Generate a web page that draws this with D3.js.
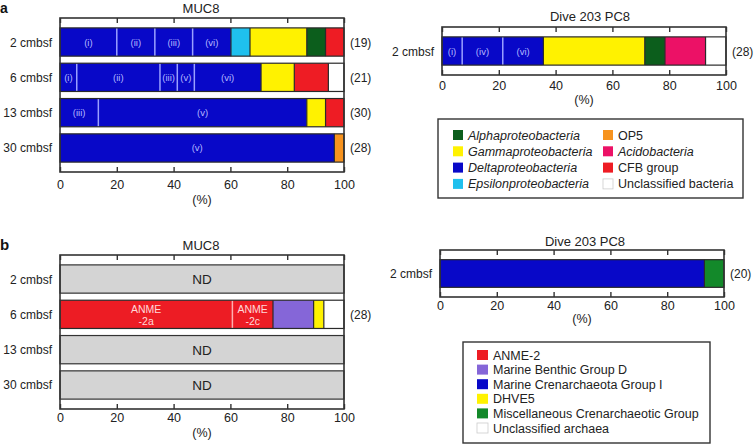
<!DOCTYPE html>
<html><head><meta charset="utf-8">
<script src="https://cdn.jsdelivr.net/npm/d3@7/dist/d3.min.js"></script>
<style>
body{margin:0;background:#fff;}
svg{display:block;font-family:"Liberation Sans",Arial,Helvetica,sans-serif;}
</style></head>
<body><svg id="chart" width="756" height="444"></svg>
<script>
// ---------- DATA ----------
const bacteriaNames = ["Alphaproteobacteria","Gammaproteobacteria","Deltaproteobacteria","Epsilonproteobacteria","OP5","Acidobacteria","CFB group","Unclassified bacteria"];
const bacteriaItalic = [true,true,true,true,false,true,false,false];
const bacteriaColors = ["#0c5e1c","#fff200","#0808c8","#1fc0ee","#f7931e","#ec1166","#ee1c24","#ffffff"];

const archaeaNames = ["ANME-2","Marine Benthic Group D","Marine Crenarchaeota Group I","DHVE5","Miscellaneous Crenarchaeotic Group","Unclassified archaea"];
const archaeaColors = ["#ed1c24","#8566d8","#0808c8","#fff200","#13892a","#ffffff"];

const depthsMUC8 = ["2 cmbsf","6 cmbsf","13 cmbsf","30 cmbsf"];
const depthsPC8 = ["2 cmbsf"];

// bacterial segments: [group, sub-label, percent]
const bacMUC8_2 = [["Deltaproteobacteria","(i)",20.0],["Deltaproteobacteria","(ii)",13.4],["Deltaproteobacteria","(iii)",13.3],["Deltaproteobacteria","(vi)",13.5],["Epsilonproteobacteria","",6.7],["Gammaproteobacteria","",20.0],["Alphaproteobacteria","",6.6],["CFB group","",6.5]];
const bacMUC8_6 = [["Deltaproteobacteria","(i)",5.9],["Deltaproteobacteria","(ii)",29.3],["Deltaproteobacteria","(iii)",6.1],["Deltaproteobacteria","(v)",6.0],["Deltaproteobacteria","(vi)",23.5],["Gammaproteobacteria","",11.7],["CFB group","",12.0],["Unclassified bacteria","",5.5]];
const bacMUC8_13 = [["Deltaproteobacteria","(iii)",13.5],["Deltaproteobacteria","(v)",73.4],["Gammaproteobacteria","",6.6],["CFB group","",6.5]];
const bacMUC8_30 = [["Deltaproteobacteria","(v)",96.6],["OP5","",3.4]];
const bacPC8_2 = [["Deltaproteobacteria","(i)",7.1],["Deltaproteobacteria","(iv)",14.3],["Deltaproteobacteria","(vi)",14.3],["Gammaproteobacteria","",35.7],["Alphaproteobacteria","",7.1],["Acidobacteria","",14.3],["Unclassified bacteria","",7.2]];
const bacMUC8Clones = ["(19)","(21)","(30)","(28)"];
const bacPC8Clones = ["(28)"];

// archaeal segments (null = ND)
const arcMUC8_2 = null;
const arcMUC8_6 = [["ANME-2","ANME\n-2a",60.7],["ANME-2","ANME\n-2c",14.3],["Marine Benthic Group D","",14.3],["DHVE5","",3.6],["Unclassified archaea","",7.1]];
const arcMUC8_13 = null;
const arcMUC8_30 = null;
const arcPC8_2 = [["Marine Crenarchaeota Group I","",93.1],["Miscellaneous Crenarchaeotic Group","",6.9]];
const arcMUC8Clones = ["","(28)","",""];
const arcPC8Clones = ["(20)"];

const xTicks = [0,20,40,60,80,100];

// ---------- DRAW ----------
const svg = d3.select("#chart");
const bacColor = d3.scaleOrdinal().domain(bacteriaNames).range(bacteriaColors);
const arcColor = d3.scaleOrdinal().domain(archaeaNames).range(archaeaColors);

function panel(o){
  const g = svg.append("g");
  const x = d3.scaleLinear().domain([0,100]).range([o.x0,o.x1]);
  const y = d3.scaleBand().domain(o.depths).range([o.top,o.bottom]).paddingInner(0.2).paddingOuter(0.28);
  g.append("text").attr("x",o.titleX).attr("y",o.titleY).attr("text-anchor","middle")
    .attr("font-size",13).attr("fill","#222").text(o.title);
  o.depths.forEach((d,i)=>{
    const segs = o.rows[i];
    const y0 = y(d), h = y.bandwidth();
    g.append("text").attr("x",o.x0-8).attr("y",y0+h/2+4.5).attr("text-anchor","end")
      .attr("font-size",12).attr("fill","#222").text(d);
    if(!segs){
      g.append("rect").attr("x",x(0)).attr("y",y0).attr("width",x(100)-x(0)).attr("height",h)
        .attr("fill","#d4d4d4").attr("stroke","#333").attr("stroke-width",1.2);
      g.append("text").attr("x",x(50)).attr("y",y0+h/2+5).attr("text-anchor","middle")
        .attr("font-size",13.5).attr("fill","#222").text("ND");
      return;
    }
    let cum = 0;
    const st = segs.map(s=>{const r={g:s[0],lab:s[1],v:s[2],a:cum}; cum+=s[2]; r.b=cum; return r;});
    g.selectAll(null).data(st).enter().append("rect")
      .attr("x",s=>x(s.a)).attr("y",y0).attr("width",s=>x(s.b)-x(s.a)).attr("height",h)
      .attr("fill",s=>o.color(s.g));
    st.slice(1).forEach((s,k)=>{
      const same = st[k].g===s.g;
      g.append("line").attr("x1",x(s.a)).attr("x2",x(s.a)).attr("y1",y0).attr("y2",y0+h)
        .attr("stroke", same ? o.subLine : "#2a2a2a").attr("stroke-width", same?1.5:1.2);
    });
    g.append("rect").attr("x",x(0)).attr("y",y0).attr("width",x(100)-x(0)).attr("height",h)
      .attr("fill","none").attr("stroke","#2a2a2a").attr("stroke-width",1.2);
    st.filter(s=>s.lab).forEach(s=>{
      const lines = s.lab.split("\n");
      const cx = (x(s.a)+x(s.b))/2;
      const t = g.append("text").attr("x",cx).attr("text-anchor","middle")
        .attr("font-size",lines.length>1?10.5:9.5).attr("fill",o.subText);
      if(lines.length===1){ t.attr("y",y0+h/2+3.5).text(lines[0]); }
      else { lines.forEach((l,j)=>t.append("tspan").attr("x",cx).attr("y",y0+h/2-1.5+j*12).text(l)); }
    });
    if(o.clones[i]) g.append("text").attr("x",o.x1+6).attr("y",y0+h/2+4.5)
      .attr("font-size",12).attr("fill","#222").text(o.clones[i]);
  });
  g.append("rect").attr("x",o.x0).attr("y",o.top).attr("width",o.x1-o.x0).attr("height",o.bottom-o.top)
    .attr("fill","none").attr("stroke","#333").attr("stroke-width",1.6);
  const ax = d3.axisBottom(x).tickValues(xTicks).tickSizeInner(-5).tickSizeOuter(0).tickPadding(o.tickPad);
  const axG = g.append("g").attr("transform",`translate(0,${o.bottom})`).call(ax);
  axG.select(".domain").remove();
  axG.selectAll(".tick line").attr("stroke","#333").attr("stroke-width",1.4);
  axG.selectAll(".tick text").attr("font-size",12.5).attr("fill","#222").attr("font-family","Liberation Sans, Arial, sans-serif");
  const axT = d3.axisTop(x).tickValues(xTicks).tickSizeInner(-5).tickSizeOuter(0).tickFormat("");
  const atG = g.append("g").attr("transform",`translate(0,${o.top})`).call(axT);
  atG.select(".domain").remove();
  atG.selectAll(".tick line").attr("stroke","#333").attr("stroke-width",1.4);
  g.append("text").attr("x",(o.x0+o.x1)/2).attr("y",o.pctY).attr("text-anchor","middle")
    .attr("font-size",12.5).attr("fill","#222").text("(%)");
}

panel({x0:60,x1:344,top:18,bottom:172,depths:depthsMUC8,rows:[bacMUC8_2,bacMUC8_6,bacMUC8_13,bacMUC8_30],
  clones:bacMUC8Clones,title:"MUC8",titleX:201,titleY:13,tickPad:8,pctY:204,color:bacColor,subLine:"#9aa0ff",subText:"#b4b8ff"});
panel({x0:442,x1:726,top:27,bottom:75,depths:depthsPC8,rows:[bacPC8_2],
  clones:bacPC8Clones,title:"Dive 203 PC8",titleX:590,titleY:21,tickPad:6,pctY:104,color:bacColor,subLine:"#9aa0ff",subText:"#b4b8ff"});
panel({x0:60,x1:344,top:255,bottom:409,depths:depthsMUC8,rows:[arcMUC8_2,arcMUC8_6,arcMUC8_13,arcMUC8_30],
  clones:arcMUC8Clones,title:"MUC8",titleX:201,titleY:250,tickPad:4,pctY:437,color:arcColor,subLine:"#ffb0b0",subText:"#ffd8d8"});
panel({x0:440,x1:724,top:250,bottom:297,depths:depthsPC8,rows:[arcPC8_2],
  clones:arcPC8Clones,title:"Dive 203 PC8",titleX:585,titleY:246,tickPad:4,pctY:323,color:arcColor,subLine:"#ffb0b0",subText:"#ffd8d8"});

svg.append("text").attr("x",0).attr("y",13).attr("font-size",14).attr("font-weight","bold").attr("fill","#111").text("a");
svg.append("text").attr("x",0).attr("y",250).attr("font-size",15).attr("font-weight","bold").attr("fill","#111").text("b");

// legend a
{
  const g = svg.append("g");
  g.append("rect").attr("x",438).attr("y",119).attr("width",305).attr("height",79)
    .attr("fill","#fff").attr("stroke","#333").attr("stroke-width",1.4);
  bacteriaNames.forEach((n,i)=>{
    const col = Math.floor(i/4), row = i%4;
    const sx = col===0?453:603, cy = 135+row*16.3;
    g.append("rect").attr("x",sx).attr("y",cy-5).attr("width",10).attr("height",10)
      .attr("fill",bacteriaColors[i]).attr("stroke",i===7?"#ccc":"none").attr("stroke-width",0.8);
    g.append("text").attr("x",sx+15).attr("y",cy+4.5).attr("font-size",12.5).attr("fill","#222")
      .attr("font-style",bacteriaItalic[i]?"italic":"normal").text(n);
  });
}
// legend b
{
  const g = svg.append("g");
  g.append("rect").attr("x",463).attr("y",342).attr("width",247).attr("height",101)
    .attr("fill","#fff").attr("stroke","#333").attr("stroke-width",1.4);
  archaeaNames.forEach((n,i)=>{
    const cy = 355+i*14.6;
    g.append("rect").attr("x",477).attr("y",cy-5).attr("width",11).attr("height",10)
      .attr("fill",archaeaColors[i]).attr("stroke",i===5?"#ccc":"none").attr("stroke-width",0.8);
    g.append("text").attr("x",493).attr("y",cy+4.5).attr("font-size",12.5).attr("fill","#222").text(n);
  });
}
</script></body></html>
